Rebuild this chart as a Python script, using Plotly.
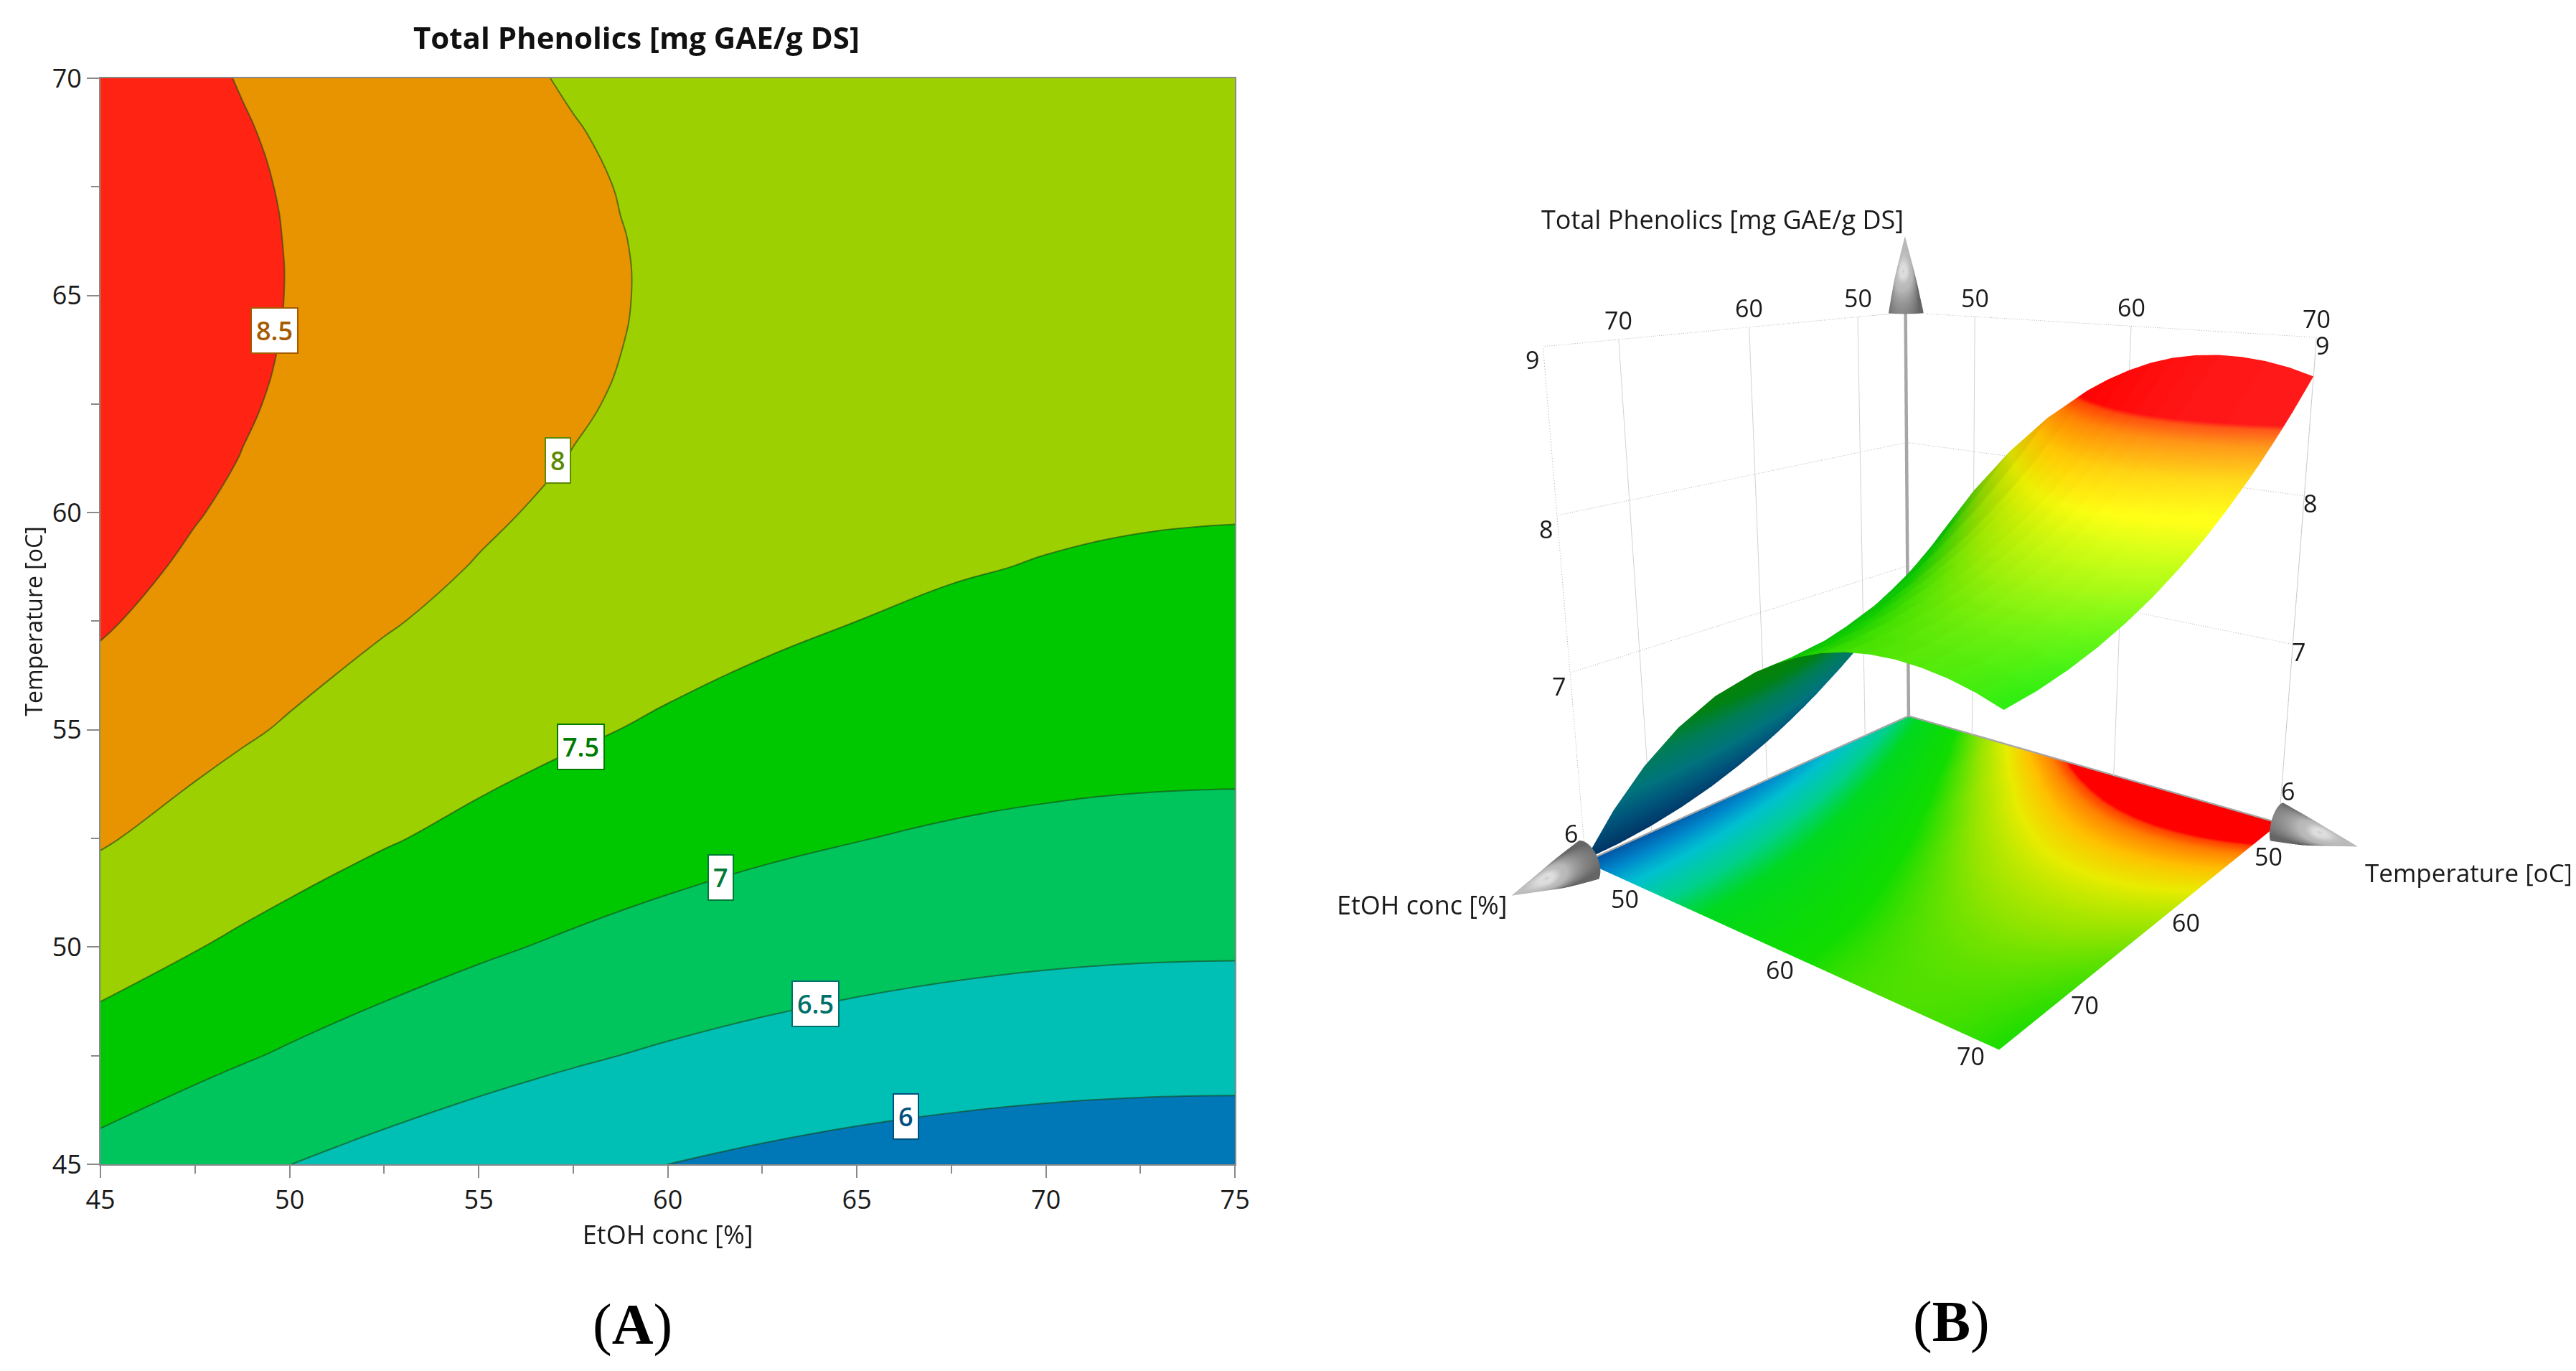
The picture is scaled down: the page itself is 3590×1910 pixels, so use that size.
import math
import plotly.graph_objects as go

# ---------------- data ----------------
etoh = [45, 47.5, 48.75, 50, 51.25, 52.5, 55, 56.25, 57.5, 58.75, 60, 62.5, 65, 67.5, 70, 72.5, 75]
temperature = [45, 47.5, 50, 52.5, 55, 57.5, 58.75, 60, 61.25, 62.5, 63.75, 65, 66.25, 67.5, 68.75, 70]
phenolics = [
    [6.850, 6.669, 6.584, 6.503, 6.427, 6.354, 6.220, 6.159, 6.102, 6.049, 6.000, 5.914, 5.843, 5.789, 5.750, 5.727, 5.720],
    [7.303, 7.121, 7.036, 6.955, 6.878, 6.805, 6.670, 6.609, 6.551, 6.498, 6.448, 6.361, 6.290, 6.235, 6.195, 6.171, 6.163],
    [7.699, 7.516, 7.430, 7.349, 7.271, 7.198, 7.062, 7.000, 6.943, 6.889, 6.839, 6.751, 6.679, 6.623, 6.582, 6.558, 6.549],
    [8.037, 7.853, 7.767, 7.685, 7.607, 7.533, 7.397, 7.335, 7.276, 7.222, 7.172, 7.083, 7.010, 6.953, 6.912, 6.886, 6.877],
    [8.317, 8.133, 8.046, 7.964, 7.886, 7.811, 7.674, 7.611, 7.553, 7.498, 7.447, 7.358, 7.284, 7.226, 7.184, 7.158, 7.147],
    [8.540, 8.355, 8.268, 8.185, 8.106, 8.031, 7.893, 7.830, 7.771, 7.716, 7.665, 7.575, 7.500, 7.441, 7.398, 7.371, 7.360],
    [8.630, 8.444, 8.357, 8.274, 8.195, 8.120, 7.982, 7.918, 7.859, 7.804, 7.752, 7.662, 7.587, 7.527, 7.484, 7.456, 7.445],
    [8.705, 8.519, 8.432, 8.349, 8.269, 8.194, 8.055, 7.992, 7.932, 7.877, 7.825, 7.734, 7.659, 7.599, 7.555, 7.527, 7.515],
    [8.766, 8.580, 8.492, 8.409, 8.329, 8.254, 8.115, 8.051, 7.991, 7.936, 7.884, 7.792, 7.716, 7.656, 7.612, 7.584, 7.571],
    [8.810, 8.623, 8.535, 8.451, 8.372, 8.296, 8.157, 8.093, 8.033, 7.977, 7.925, 7.833, 7.757, 7.696, 7.652, 7.623, 7.610],
    [8.837, 8.650, 8.562, 8.478, 8.398, 8.322, 8.182, 8.118, 8.058, 8.002, 7.950, 7.857, 7.780, 7.720, 7.675, 7.645, 7.632],
    [8.850, 8.662, 8.574, 8.490, 8.410, 8.334, 8.193, 8.129, 8.069, 8.012, 7.960, 7.867, 7.790, 7.729, 7.683, 7.654, 7.640],
    [8.848, 8.660, 8.572, 8.487, 8.407, 8.331, 8.190, 8.125, 8.065, 8.008, 7.956, 7.862, 7.785, 7.723, 7.677, 7.647, 7.633],
    [8.833, 8.645, 8.556, 8.472, 8.391, 8.315, 8.173, 8.109, 8.048, 7.991, 7.938, 7.845, 7.767, 7.705, 7.658, 7.628, 7.613],
    [8.804, 8.615, 8.526, 8.441, 8.361, 8.284, 8.142, 8.077, 8.016, 7.959, 7.906, 7.812, 7.734, 7.671, 7.625, 7.594, 7.579],
    [8.760, 8.570, 8.482, 8.397, 8.316, 8.239, 8.097, 8.032, 7.970, 7.913, 7.860, 7.765, 7.687, 7.624, 7.577, 7.545, 7.530],
]

contour_start, contour_end, contour_step = 6.0, 8.5, 0.5
band_colors = ["#0077B6", "#00BFB4", "#00C45C", "#00C800", "#9CD000", "#E89300", "#FF2314"]

label_text = ["6", "6.5", "7", "7.5", "8", "8.5"]
label_x = [66.3, 63.9, 61.4, 57.7, 57.1, 49.6]
label_y = [46.1, 48.7, 51.6, 54.6, 61.2, 64.2]
label_colors = ["#00507F", "#00706A", "#007A35", "#007A00", "#5A8A00", "#A45A00"]

x_ticks = [45, 50, 55, 60, 65, 70, 75]
y_ticks = [45, 50, 55, 60, 65, 70]
ticks3d = [50, 60, 70]
z_ticks = [6, 7, 8, 9]

title_text = "Total Phenolics [mg GAE/g DS]"
x_title = "EtOH conc [%]"
y_title = "Temperature [oC]"

# 3D box
x_lo, x_hi = 45, 75
y_lo, y_hi = 45, 70
z_lo, z_hi = 5.7, 9.0
z_aspect = 1.0
arrow_len, arrow_rad = 0.17, 0.045   # in box-normalised units

FONT = "Open Sans, Noto Sans, sans-serif"
TXT = "#1a1a1a"

fig = go.Figure()

# ---------------- panel A: filled contour ----------------
n_b = len(band_colors)
cscale = []
for i, c in enumerate(band_colors):
    cscale.append([i / n_b, c])
    cscale.append([(i + 1) / n_b, c])

fig.add_trace(go.Contour(
    x=etoh, y=temperature, z=phenolics,
    zmin=contour_start - contour_step, zmax=contour_end + contour_step,
    autocontour=False,
    contours=dict(start=contour_start, end=contour_end, size=contour_step,
                  coloring="fill", showlabels=False),
    colorscale=cscale, showscale=False,
    line=dict(color="rgba(25,70,25,0.6)", width=2, smoothing=1.3),
    hoverinfo="skip", xaxis="x", yaxis="y",
))

annotations = []
for t, lx, ly, lc in zip(label_text, label_x, label_y, label_colors):
    annotations.append(dict(
        x=lx, y=ly, xref="x", yref="y", text=t, showarrow=False,
        xanchor="center", yanchor="middle",
        font=dict(family=FONT, size=36, color=lc, weight=600),
        bgcolor="white", bordercolor=lc, borderwidth=2, borderpad=6,
    ))

annotations.append(dict(x=0.2449, y=0.977, xref="paper", yref="paper",
                        xanchor="center", yanchor="middle",
                        text="<b>" + title_text + "</b>", showarrow=False,
                        font=dict(family=FONT, size=42, color="#111")))
annotations.append(dict(x=0.2432, y=0.0377, xref="paper", yref="paper",
                        xanchor="center", yanchor="middle",
                        text="(<b>A</b>)", showarrow=False,
                        font=dict(family="Liberation Serif, serif", size=80, color="black")))
annotations.append(dict(x=0.7554, y=0.0403, xref="paper", yref="paper",
                        xanchor="center", yanchor="middle",
                        text="(<b>B</b>)", showarrow=False,
                        font=dict(family="Liberation Serif, serif", size=80, color="black")))

# ---------------- panel B: 3D surface ----------------
cmin3, cmax3 = 5.72, 8.86
cs3d = [
    [0.0, "#0058A8"], [0.09, "#0088CC"], [0.185, "#00C0D0"], [0.30, "#00D090"],
    [0.40, "#00D820"], [0.57, "#10DC00"], [0.66, "#90E400"], [0.74, "#E8EC00"],
    [0.80, "#FFC000"], [0.85, "#FF8000"], [0.878, "#FF4000"], [0.887, "#FF0000"],
    [1.0, "#FF0000"],
]

fig.add_trace(go.Surface(
    x=etoh, y=temperature, z=[[z_lo] * len(etoh) for _ in temperature],
    surfacecolor=phenolics, cmin=cmin3, cmax=cmax3, colorscale=cs3d,
    showscale=False, hoverinfo="skip",
    lighting=dict(ambient=1.0, diffuse=0.0, specular=0.0, fresnel=0.0),
    scene="scene",
))
fig.add_trace(go.Surface(
    x=etoh, y=temperature, z=phenolics,
    cmin=cmin3, cmax=cmax3, colorscale=cs3d, showscale=False, hoverinfo="skip",
    lighting=dict(ambient=0.6, diffuse=0.65, specular=0.12, roughness=0.6, fresnel=0.05),
    lightposition=dict(x=100000, y=30000, z=80000),
    scene="scene",
))

grid_col = "#b8b8b8"


def line3d(xs, ys, zs, color=grid_col, width=2, dash="dot"):
    fig.add_trace(go.Scatter3d(x=xs, y=ys, z=zs, mode="lines",
                               line=dict(color=color, width=width, dash=dash),
                               hoverinfo="skip", showlegend=False, scene="scene"))


# back walls: verticals at ticks, dotted horizontals at z ticks
for xv in ticks3d:
    line3d([xv, xv], [y_lo, y_lo], [z_lo, z_hi], color="#d2d2d2", dash="solid")
for yv in ticks3d:
    line3d([x_lo, x_lo], [yv, yv], [z_lo, z_hi], color="#d2d2d2", dash="solid")
line3d([x_hi, x_hi], [y_lo, y_lo], [z_lo, z_hi])
line3d([x_lo, x_lo], [y_hi, y_hi], [z_lo, z_hi])
for zv in z_ticks[1:]:
    line3d([x_lo, x_hi], [y_lo, y_lo], [zv, zv])
    line3d([x_lo, x_lo], [y_lo, y_hi], [zv, zv])

# axis arrows (shafts)
arrow_col = "#a6a6a6"
line3d([x_lo, x_hi], [y_lo, y_lo], [z_lo, z_lo], color=arrow_col, width=9, dash="solid")
line3d([x_lo, x_lo], [y_lo, y_hi], [z_lo, z_lo], color=arrow_col, width=9, dash="solid")
line3d([x_lo, x_lo], [y_lo, y_lo], [z_lo, z_hi], color=arrow_col, width=9, dash="solid")

# data units per box-normalised unit on each axis
unit = [(x_hi - x_lo), (y_hi - y_lo), (z_hi - z_lo) / z_aspect]


def arrow_head(base, k, n=40):
    tip = list(base)
    tip[k] = base[k] + arrow_len * unit[k]
    a, b = [d for d in range(3) if d != k]
    verts = [tip, list(base)]
    for m in range(n):
        t = 2 * math.pi * m / n
        p = list(base)
        p[a] = base[a] + arrow_rad * unit[a] * math.cos(t)
        p[b] = base[b] + arrow_rad * unit[b] * math.sin(t)
        verts.append(p)
    ii, jj, kk = [], [], []
    for m in range(n):
        ii += [0, 1]
        jj += [2 + m, 2 + (m + 1) % n]
        kk += [2 + (m + 1) % n, 2 + m]
    fig.add_trace(go.Mesh3d(
        x=[v[0] for v in verts], y=[v[1] for v in verts], z=[v[2] for v in verts],
        i=ii, j=jj, k=kk, color="#b8b8b8", flatshading=False, hoverinfo="skip",
        lighting=dict(ambient=0.55, diffuse=0.7, specular=0.6, roughness=0.4),
        lightposition=dict(x=100000, y=30000, z=80000),
        scene="scene"))
    return tip


tip_x = arrow_head([x_hi, y_lo, z_lo], 0)
tip_y = arrow_head([x_lo, y_hi, z_lo], 1)
tip_z = arrow_head([x_lo, y_lo, z_hi], 2)

# 3D text (tick labels and titles)
sann = []
f3 = dict(family=FONT, size=34, color=TXT)
for v in ticks3d:
    sann.append(dict(x=v, y=y_hi, z=z_lo, text=str(v), showarrow=False, font=f3,
                     xanchor="left", xshift=14, yshift=-4))
    sann.append(dict(x=x_hi, y=v, z=z_lo, text=str(v), showarrow=False, font=f3,
                     xanchor="right", xshift=-18, yshift=-8))
    sann.append(dict(x=v, y=y_lo, z=z_hi, text=str(v), showarrow=False, font=f3,
                     yanchor="bottom", yshift=2))
    sann.append(dict(x=x_lo, y=v, z=z_hi, text=str(v), showarrow=False, font=f3,
                     yanchor="bottom", yshift=2))
for v in z_ticks:
    sann.append(dict(x=x_hi, y=y_lo, z=v, text=str(v), showarrow=False, font=f3,
                     xanchor="right", xshift=-4, yshift=-18))
    sann.append(dict(x=x_lo, y=y_hi, z=v, text=str(v), showarrow=False, font=f3,
                     xanchor="center", xshift=8, yshift=-10))
sann.append(dict(x=tip_z[0], y=tip_z[1], z=tip_z[2], text=title_text, showarrow=False,
                 font=dict(family=FONT, size=36, color=TXT),
                 xanchor="right", yanchor="bottom", yshift=-2))
sann.append(dict(x=tip_x[0], y=tip_x[1], z=tip_x[2], text=x_title, showarrow=False,
                 font=dict(family=FONT, size=36, color=TXT),
                 xanchor="right", yanchor="middle", xshift=-4, yshift=-12))
sann.append(dict(x=tip_y[0], y=tip_y[1], z=tip_y[2], text=y_title, showarrow=False,
                 font=dict(family=FONT, size=35, color=TXT),
                 xanchor="left", yanchor="top", xshift=8, yshift=-10))

# scene ranges padded so nothing sits on a clipping boundary
xr = [x_lo - 0.4, x_hi + arrow_len * unit[0] + 1.0]
yr = [y_lo - 0.4, y_hi + arrow_len * unit[1] + 1.0]
zr = [z_lo - 0.08, z_hi + arrow_len * unit[2] + 0.1]
asp = dict(x=(xr[1] - xr[0]) / unit[0], y=(yr[1] - yr[0]) / unit[1], z=(zr[1] - zr[0]) / unit[2])
# look at the centre of the real box
cen = dict(x=((x_lo + x_hi) / 2 - (xr[0] + xr[1]) / 2) / unit[0],
           y=((y_lo + y_hi) / 2 - (yr[0] + yr[1]) / 2) / unit[1],
           z=((z_lo + z_hi) / 2 - (zr[0] + zr[1]) / 2) / unit[2])
az, el, dist = math.radians(38), math.radians(16.5), 2.6
eye = dict(x=cen["x"] + dist * math.cos(el) * math.cos(az),
           y=cen["y"] + dist * math.cos(el) * math.sin(az),
           z=cen["z"] + dist * math.sin(el))

ax_hidden = dict(visible=False, showspikes=False)
fig.update_layout(
    width=3590, height=1910, margin=dict(l=0, r=0, t=0, b=0),
    paper_bgcolor="white", plot_bgcolor="white", showlegend=False,
    font=dict(family=FONT, color=TXT),
    xaxis=dict(domain=[0.0368, 0.4772], range=[45, 75], tickvals=x_ticks, automargin=False,
               ticks="outside", ticklen=17, tickwidth=2, tickcolor="#8a8a8a",
               showline=True, linecolor="#8a8a8a", linewidth=2, mirror=True,
               showgrid=False, zeroline=False,
               minor=dict(dtick=2.5, ticks="outside", ticklen=11, tickwidth=2, tickcolor="#8a8a8a"),
               tickfont=dict(size=36, family=FONT, color=TXT),
               title=dict(text=x_title, font=dict(size=36, family=FONT, color=TXT), standoff=8)),
    yaxis=dict(domain=[0.155, 0.9471], range=[45, 70], tickvals=y_ticks, automargin=False,
               ticks="outside", ticklen=17, tickwidth=2, tickcolor="#8a8a8a",
               showline=True, linecolor="#8a8a8a", linewidth=2, mirror=True,
               showgrid=False, zeroline=False,
               minor=dict(dtick=2.5, ticks="outside", ticklen=11, tickwidth=2, tickcolor="#8a8a8a"),
               tickfont=dict(size=36, family=FONT, color=TXT),
               title=dict(text=y_title, font=dict(size=32, family=FONT, color=TXT), standoff=4)),
    scene=dict(
        domain=dict(x=[0.507, 0.997], y=[0.153, 0.971]),
        xaxis=dict(range=xr, **ax_hidden),
        yaxis=dict(range=yr, **ax_hidden),
        zaxis=dict(range=zr, **ax_hidden),
        aspectmode="manual", aspectratio=asp,
        camera=dict(eye=eye, center=cen, up=dict(x=0, y=0, z=1)),
        annotations=sann,
        bgcolor="white",
    ),
    annotations=annotations,
)

fig.write_html("out.html")
